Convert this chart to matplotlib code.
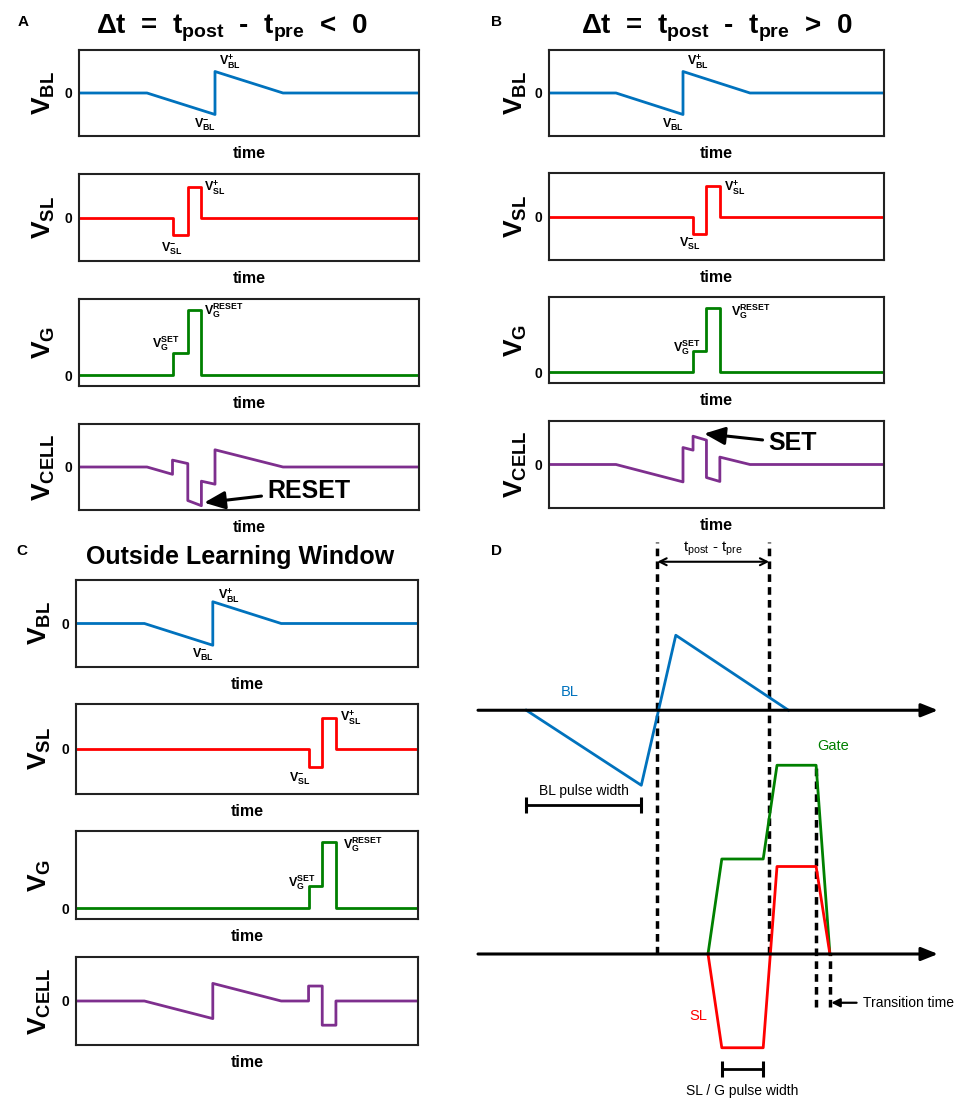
import matplotlib
matplotlib.use('Agg')
import matplotlib.pyplot as plt

plt.rcParams['font.family'] = ['Liberation Sans', 'DejaVu Sans']
plt.rcParams['mathtext.fontset'] = 'custom'
plt.rcParams['mathtext.rm'] = 'Liberation Sans'
plt.rcParams['mathtext.bf'] = 'Liberation Sans:bold'
plt.rcParams['mathtext.it'] = 'Liberation Sans:italic'
plt.rcParams['mathtext.sf'] = 'Liberation Sans'

# ---------------- data ----------------
# bit-line (pre-synaptic) pulse, same in A, B, C
t_bl = [0, 20, 40, 40, 60, 100]
v_bl = [0, 0, -0.5, 0.5, 0, 0]

# source-line pulse
t_sl_A = [0, 27.5, 27.5, 32, 32, 36, 36, 100]
t_sl_B = [0, 43, 43, 47, 47, 51, 51, 100]
t_sl_C = [0, 68, 68, 72, 72, 76, 76, 100]
v_sl = [0, 0, -0.4, -0.4, 0.7, 0.7, 0, 0]

# gate pulse (same timing as SL)
v_g = [0, 0, 0.3, 0.3, 0.9, 0.9, 0, 0]

# cell voltage
t_cell_A = [0, 20, 27.5, 27.5, 32, 32, 36, 36, 40, 40, 60, 100]
v_cell_A = [0, 0, -0.17, 0.16, 0.08, -0.78, -0.90, -0.33, -0.40, 0.40, 0, 0]
t_cell_B = [0, 20, 40, 40, 43, 43, 47, 47, 51, 51, 60, 100]
v_cell_B = [0, 0, -0.40, 0.39, 0.33, 0.65, 0.56, -0.30, -0.39, 0.17, 0, 0]
t_cell_C = [0, 20, 40, 40, 60, 68, 68, 72, 72, 76, 76, 100]
v_cell_C = [0, 0, -0.40, 0.40, 0, 0, 0.34, 0.34, -0.55, -0.55, 0, 0]

# panel D schematic
D_bl_t = [10.5, 35.5, 43, 67.5]
D_bl_v = [0, -3.0, 3.0, 0]
D_g_t = [50, 53, 62, 65, 73.5, 76.5]
D_g_v = [0, 3.8, 3.8, 7.55, 7.55, 0]
D_sl_t = [50, 53, 62, 65, 73.5, 76.5]
D_sl_v = [0, -3.75, -3.75, 3.5, 3.5, 0]
D_marks = [39, 63.3, 73.5, 76.5]

C_BL = '#0072BD'
C_SL = '#FF0000'
C_G = '#008000'
C_CELL = '#7E2F8E'

W, H = 957, 1102
fig = plt.figure(figsize=(W / 100, H / 100), dpi=100)


def box(x0, x1, y0, y1):
    return [x0 / W, 1 - y1 / H, (x1 - x0) / W, (y1 - y0) / H]


def style(ax, ylabel, ylim):
    ax.set_xlim(0, 100)
    ax.set_ylim(*ylim)
    ax.set_xticks([])
    ax.set_yticks([0])
    ax.set_yticklabels(['0'], fontsize=10, fontweight='bold')
    ax.tick_params(length=0, pad=5)
    for s in ax.spines.values():
        s.set_linewidth(1.5)
        s.set_color('#222222')
    ax.set_xlabel('time', fontsize=11.5, fontweight='bold', labelpad=7)
    ax.set_ylabel(ylabel, fontsize=19)


def ann(ax, x, y, s):
    ax.text(x, y, s, fontsize=9, ha='left', va='center')


panels = [
    dict(x=(79, 419), ys=[(50, 136), (174, 261), (299, 386), (424, 510)],
         tsl=t_sl_A, tc=t_cell_A, vc=v_cell_A,
         a1=[(41.2, 0.74), (33.8, -0.74)], a2=[(36.8, 0.68), (24.1, -0.72)],
         a3=[(21.6, 0.44), (36.8, 0.89)], lab=-0.064),
    dict(x=(549, 884), ys=[(50, 136), (173, 260), (297, 383), (421, 508)],
         tsl=t_sl_B, tc=t_cell_B, vc=v_cell_B,
         a1=[(41.1, 0.74), (33.6, -0.74)], a2=[(52.3, 0.67), (38.8, -0.62)],
         a3=[(37.1, 0.35), (54.2, 0.845)], lab=-0.06),
    dict(x=(76, 418), ys=[(580, 667), (704, 794), (831, 919), (957, 1045)],
         tsl=t_sl_C, tc=t_cell_C, vc=v_cell_C,
         a1=[(41.4, 0.64), (33.8, -0.72)], a2=[(77.2, 0.70), (62.4, -0.66)],
         a3=[(62.1, 0.34), (78.2, 0.86)], lab=-0.066),
]

axes_cells = []
for p in panels:
    x0, x1 = p['x']
    ax1 = fig.add_axes(box(x0, x1, *p['ys'][0]))
    ax1.plot(t_bl, v_bl, color=C_BL, lw=2)
    style(ax1, r'$\mathbf{V_{BL}}$', (-1, 1))
    ann(ax1, *p['a1'][0], r'$\mathbf{V^{+}_{BL}}$')
    ann(ax1, *p['a1'][1], r'$\mathbf{V^{-}_{BL}}$')

    ax2 = fig.add_axes(box(x0, x1, *p['ys'][1]))
    ax2.plot(p['tsl'], v_sl, color=C_SL, lw=2)
    style(ax2, r'$\mathbf{V_{SL}}$', (-1, 1))
    ann(ax2, *p['a2'][0], r'$\mathbf{V^{+}_{SL}}$')
    ann(ax2, *p['a2'][1], r'$\mathbf{V^{-}_{SL}}$')

    ax3 = fig.add_axes(box(x0, x1, *p['ys'][2]))
    ax3.plot(p['tsl'], v_g, color=C_G, lw=2)
    style(ax3, r'$\mathbf{V_{G}}$', (-0.15, 1.05))
    ann(ax3, *p['a3'][0], r'$\mathbf{V_{G}^{SET}}$')
    ann(ax3, *p['a3'][1], r'$\mathbf{V_{G}^{RESET}}$')

    ax4 = fig.add_axes(box(x0, x1, *p['ys'][3]))
    ax4.plot(p['tc'], p['vc'], color=C_CELL, lw=2)
    style(ax4, r'$\mathbf{V_{CELL}}$', (-1, 1))
    for a in (ax1, ax2, ax3, ax4):
        a.yaxis.set_label_coords(p['lab'], 0.5)
    axes_cells.append(ax4)

arrow_kw = dict(arrowstyle='-|>,head_length=0.7,head_width=0.3', lw=2.2,
                color='k', shrinkA=2, shrinkB=0)
axes_cells[0].annotate('RESET', xy=(36.8, -0.83), xytext=(55.3, -0.55),
                       fontsize=18, fontweight='bold', ha='left', va='center',
                       arrowprops=arrow_kw)
axes_cells[1].annotate('SET', xy=(46.3, 0.71), xytext=(65.4, 0.49),
                       fontsize=18, fontweight='bold', ha='left', va='center',
                       arrowprops=arrow_kw)

# titles & panel letters
def ftext(x, y, s, **kw):
    fig.text(x / W, 1 - y / H, s, **kw)

ftext(23, 22, 'A', fontsize=11, fontweight='bold', ha='center', va='center')
ftext(497, 22, 'B', fontsize=11, fontweight='bold', ha='center', va='center')
ftext(22, 551, 'C', fontsize=11, fontweight='bold', ha='center', va='center')
ftext(497, 551, 'D', fontsize=11, fontweight='bold', ha='center', va='center')
ftext(232, 33, r'Δt  =  t$_\mathbf{post}$  -  t$_\mathbf{pre}$  <  0', fontsize=20,
      fontweight='bold', ha='center', va='baseline')
ftext(717, 33, r'Δt  =  t$_\mathbf{post}$  -  t$_\mathbf{pre}$  >  0', fontsize=20,
      fontweight='bold', ha='center', va='baseline')
ftext(240, 564, 'Outside Learning Window', fontsize=18, fontweight='bold',
      ha='center', va='baseline')

# ---------------- panel D ----------------
axD = fig.add_axes(box(478, 938, 530, 1100))
axD.set_xlim(0, 100)
axD.set_ylim(-5.84, 16.96)
axD.axis('off')
BL_BASE = 9.75
TOP = 16.5
axis_kw = dict(arrowstyle='-|>,head_length=1.0,head_width=0.4', lw=2.2,
               color='k', shrinkA=0, shrinkB=0)
for base in (BL_BASE, 0):
    axD.annotate('', xy=(100, base), xytext=(0, base), arrowprops=axis_kw)

dash_kw = dict(color='k', lw=2.5, dashes=(2.2, 1.5))
axD.plot([D_marks[0]] * 2, [0, TOP], **dash_kw)
axD.plot([D_marks[1]] * 2, [0, TOP], **dash_kw)
axD.plot([D_marks[2]] * 2, [-2.1, D_g_v[4]], **dash_kw)
axD.plot([D_marks[3]] * 2, [-2.1, 0], **dash_kw)

axD.plot(D_bl_t, [v + BL_BASE for v in D_bl_v], color=C_BL, lw=2)
axD.plot(D_g_t, D_g_v, color=C_G, lw=2)
axD.plot(D_sl_t, D_sl_v, color=C_SL, lw=2)

axD.annotate('', xy=(D_marks[1], 15.69), xytext=(D_marks[0], 15.69),
             arrowprops=dict(arrowstyle='<->,head_length=0.5,head_width=0.25',
                             lw=1.5, color='k', shrinkA=0, shrinkB=0))
axD.text(51.1, 16.2, r't$_\mathregular{post}$ - t$_\mathregular{pre}$', fontsize=11,
         ha='center', va='center')
axD.text(20, 10.5, 'BL', color=C_BL, fontsize=10.5, ha='center', va='center')
axD.text(77.2, 8.3, 'Gate', color=C_G, fontsize=10.5, ha='center', va='center')
axD.text(47.8, -2.5, 'SL', color=C_SL, fontsize=10.5, ha='center', va='center')

for (xa, xb, yb, label, yt) in [(D_bl_t[0], D_bl_t[1], 5.96, 'BL pulse width', 6.5),
                                (D_g_t[1], D_g_t[2], -4.6, 'SL / G pulse width', -5.5)]:
    axD.plot([xa, xb], [yb, yb], color='k', lw=2)
    axD.plot([xa, xb], [yb, yb], ls='none', marker='|', ms=11, mew=2.2, color='k')
    axD.text((xa + xb) / 2, yt, label, fontsize=10, ha='center', va='center')

axD.annotate('', xy=(D_marks[3], -1.95), xytext=(82.3, -1.95),
             arrowprops=dict(arrowstyle='-|>,head_length=0.5,head_width=0.25',
                             lw=1.6, color='k', shrinkA=0, shrinkB=1))
axD.text(83.6, -1.95, 'Transition time', fontsize=10, ha='left', va='center',
         clip_on=False)

fig.savefig('out.png', dpi=100)
